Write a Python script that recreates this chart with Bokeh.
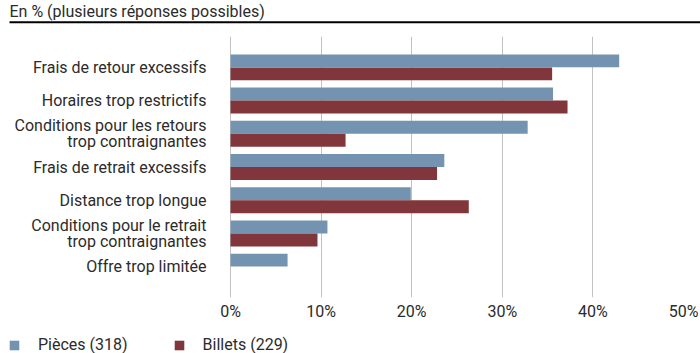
from bokeh.plotting import figure
from bokeh.layouts import column
from bokeh.models import (ColumnDataSource, FactorRange, Range1d, Legend, LegendItem,
                          FixedTicker, CustomJSTickFormatter)
from bokeh.core.properties import value
from bokeh.transform import dodge
from bokeh.embed import file_html
from bokeh.resources import INLINE

# Reasons given (several answers possible), in %
categories = [
    "Frais de retour excessifs",
    "Horaires trop restrictifs",
    "Conditions pour les retours\ntrop contraignantes",
    "Frais de retrait excessifs",
    "Distance trop longue",
    "Conditions pour le retrait\ntrop contraignantes",
    "Offre trop limitée",
]
pieces = [42.9, 35.6, 32.8, 23.6, 19.9, 10.7, 6.3]
billets = [35.5, 37.2, 12.7, 22.8, 26.3, 9.6, 0.0]
series_labels = ["Pièces (318)", "Billets (229)"]
x_ticks = [0, 10, 20, 30, 40, 50]
title_text = "En % (plusieurs réponses possibles)"

BLUE = "#7393B0"
RED = "#80363A"
TEXT = "#2b2b2b"
FONT = "Roboto"
W = 700

source = ColumnDataSource(dict(cat=categories, pieces=pieces, billets=billets))


def strip(height, y_range):
    f = figure(width=W, height=height, x_range=Range1d(0, W), y_range=y_range,
               x_axis_type=None, y_axis_type=None, min_border=0, frame_align=False,
               output_backend="svg", toolbar_location=None)
    f.outline_line_color = None
    f.xgrid.visible = False
    f.ygrid.visible = False
    return f


# --- heading with rule -------------------------------------------------------
head = strip(36, Range1d(36, 0))
head.text(x=[9], y=[11], text=[title_text], text_font=value(FONT),
          text_font_size="16px", text_color=TEXT, text_baseline="middle")
head.segment(x0=[9], x1=[W], y0=[21.7], y1=[21.7], line_color="black", line_width=2)

# --- bars --------------------------------------------------------------------
# first category at the top
y_range = FactorRange(factors=categories[::-1], range_padding=0.43,
                      range_padding_units="absolute")

p = figure(width=W, height=289, y_range=y_range, x_range=Range1d(-0.11, 50),
           output_backend="svg", toolbar_location=None, frame_align=False,
           min_border_left=229, min_border_right=17,
           min_border_top=0, min_border_bottom=28)
p.outline_line_color = None
p.background_fill_color = "white"
p.border_fill_color = "white"

p.hbar(y=dodge("cat", 0.196, range=p.y_range), right="pieces", left=0,
       height=0.39, color=BLUE, line_color=None, source=source)
p.hbar(y=dodge("cat", -0.196, range=p.y_range), right="billets", left=0,
       height=0.39, color=RED, line_color=None, source=source)

p.xaxis.ticker = FixedTicker(ticks=x_ticks)
p.xaxis.formatter = CustomJSTickFormatter(code="return tick + '%';")
p.xaxis.axis_line_color = None
p.xaxis.major_tick_line_color = None
p.xaxis.minor_tick_line_color = None
p.xaxis.major_tick_out = 0
p.xaxis.major_tick_in = 0
p.xaxis.major_label_standoff = 4
p.xaxis.major_label_text_font = FONT
p.xaxis.major_label_text_font_size = "16px"
p.xaxis.major_label_text_color = TEXT

p.xgrid.ticker = FixedTicker(ticks=x_ticks)
p.xgrid.grid_line_color = "#c2c2c2"
p.xgrid.grid_line_width = 1
p.ygrid.grid_line_color = None

p.yaxis.axis_line_color = None
p.yaxis.major_tick_line_color = None
p.yaxis.minor_tick_line_color = None
p.yaxis.major_tick_out = 0
p.yaxis.major_tick_in = 0
p.yaxis.major_label_standoff = 23
p.yaxis.major_label_text_font = FONT
p.yaxis.major_label_text_font_size = "16px"
p.yaxis.major_label_text_color = TEXT
p.yaxis.major_label_text_line_height = 0.85

# --- legend strip ------------------------------------------------------------
# hidden copies of both series feed the legend keys
foot = strip(28, Range1d(0, 28))
k1 = foot.hbar(y=0, right="pieces", left=0, height=1, color=BLUE, line_color=None,
               source=source, visible=False)
k2 = foot.hbar(y=0, right="billets", left=0, height=1, color=RED, line_color=None,
               source=source, visible=False)
legend = Legend(items=[LegendItem(label=series_labels[0], renderers=[k1]),
                       LegendItem(label=series_labels[1], renderers=[k2])],
                orientation="horizontal", location=(8, -1),
                glyph_width=12, glyph_height=12, label_standoff=18, spacing=45,
                padding=0, margin=0, border_line_color=None,
                background_fill_alpha=0, inactive_fill_alpha=0,
                label_text_font=FONT, label_text_font_size="16px",
                label_text_color=TEXT)
foot.add_layout(legend)

layout = column(head, p, foot, spacing=0)
open("out.html", "w").write(file_html(layout, INLINE))
